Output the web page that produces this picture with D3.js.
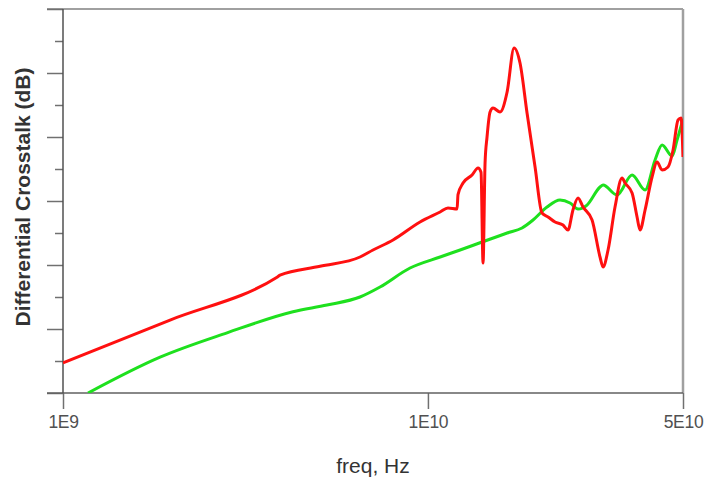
<!DOCTYPE html>
<html>
<head>
<meta charset="utf-8">
<script src="https://cdn.jsdelivr.net/npm/d3@7"></script>
<style>
  html, body { margin: 0; padding: 0; background: #fff; }
  svg { display: block; }
</style>
</head>
<body>
<svg id="chart" width="706" height="477"></svg>
<script>
// Frequencies in GHz, crosstalk in dB
const redFreq = [1.000, 1.965, 3.859, 3.932, 5.062, 6.515, 7.072, 8.024, 9.515, 10.80,
  11.35, 12.02, 12.09, 12.48, 13.21, 13.72, 13.98, 14.16, 14.34, 14.52,
  14.80, 15.08, 15.76, 16.48, 17.22, 17.88, 18.69, 19.66, 20.54, 21.34,
  22.30, 23.45, 24.20, 24.97, 25.78, 26.61, 28.17, 29.62, 30.19, 31.16,
  32.56, 34.03, 34.69, 36.26, 37.42, 38.13, 39.36, 41.13, 42.46, 43.82,
  45.50, 46.96, 48.46, 49.39, 50.00];
const redDb = [-55.3, -48.6, -41.9, -41.6, -40.2, -38.75, -37.66, -36.09, -33.28, -31.72,
  -31.09, -31.25, -29.0, -27.2, -25.94, -24.84, -25.5, -39.7, -24.06, -20.0,
  -16.09, -15.47, -16.09, -12.97, -6.09, -8.44, -16.25, -24.69, -31.88, -32.5,
  -33.28, -33.75, -34.53, -31.41, -29.53, -30.94, -32.97, -38.75, -40.31, -37.66,
  -30.94, -26.41, -27.19, -28.75, -32.5, -34.53, -31.41, -26.25, -23.91, -25.16,
  -24.69, -22.03, -17.34, -17.03, -23.13];

const greenFreq = [1.171, 1.845, 2.815, 4.268, 5.290, 6.515, 7.391, 8.932, 10.80, 12.25,
  14.07, 16.48, 18.11, 19.41, 21.20, 23.01, 24.51, 25.78, 27.29, 29.62,
  30.19, 32.98, 36.26, 39.36, 41.92, 43.82, 46.67, 48.16, 50.00];
const greenDb = [-60.0, -54.4, -50.6, -47.3, -46.25, -45.0, -43.44, -40.47, -38.75, -37.66,
  -36.41, -35.0, -34.22, -32.97, -30.94, -29.84, -30.31, -31.25, -30.63, -27.81,
  -27.5, -29.06, -25.94, -28.28, -23.59, -21.25, -22.97, -20.47, -17.19];

const xTickValues = [1e9, 1e10, 5e10];
const xTickLabels = ["1E9", "1E10", "5E10"];
const yMajorTicks = [-60, -50, -40, -30, -20, -10, 0];
const yMinorTicks = [-55, -45, -35, -25, -15, -5];

const svg = d3.select("#chart");
const plotLeft = 63, plotRight = 683, plotTop = 9, plotBottom = 393;

const x = d3.scaleLog().domain([1e9, 5e10]).range([plotLeft, plotRight]);
const y = d3.scaleLinear().domain([-60, 0]).range([plotBottom, plotTop]);

svg.append("defs").append("clipPath").attr("id", "plotClip")
  .append("rect").attr("x", plotLeft).attr("y", plotTop)
  .attr("width", plotRight - plotLeft).attr("height", plotBottom - plotTop);

// frame: top and right border
svg.append("line").attr("x1", 47).attr("x2", plotRight).attr("y1", plotTop).attr("y2", plotTop)
  .attr("stroke", "#a0a0a0").attr("stroke-width", 2);
svg.append("line").attr("x1", plotRight).attr("x2", plotRight).attr("y1", plotTop).attr("y2", plotBottom)
  .attr("stroke", "#a0a0a0").attr("stroke-width", 2.5);

// y axis: unlabeled major and minor ticks
const yMajor = svg.append("g").attr("transform", `translate(${plotLeft},0)`)
  .call(d3.axisLeft(y).tickValues(yMajorTicks).tickSize(16).tickFormat(""));
const yMinor = svg.append("g").attr("transform", `translate(${plotLeft},0)`)
  .call(d3.axisLeft(y).tickValues(yMinorTicks).tickSize(8).tickFormat(""));
[yMajor, yMinor].forEach(g => {
  g.select(".domain").remove();
  g.selectAll(".tick line").attr("stroke", "#707070").attr("stroke-width", 1.5);
});

// x axis
const xAxis = svg.append("g").attr("transform", `translate(0,${plotBottom})`)
  .call(d3.axisBottom(x).tickValues(xTickValues).tickSize(16).tickPadding(7)
    .tickFormat((d, i) => xTickLabels[i]));
xAxis.select(".domain").remove();
xAxis.selectAll(".tick line").attr("stroke", "#707070").attr("stroke-width", 1.5);
xAxis.selectAll(".tick text")
  .attr("font-family", "'Liberation Sans', Arial, sans-serif")
  .attr("font-size", 17.5).attr("fill", "#505050").attr("letter-spacing", -0.3);

// axis lines
svg.append("line").attr("x1", 47).attr("x2", plotRight).attr("y1", plotBottom).attr("y2", plotBottom)
  .attr("stroke", "#606060").attr("stroke-width", 1.5);
svg.append("line").attr("x1", plotLeft).attr("x2", plotLeft).attr("y1", plotTop).attr("y2", plotBottom)
  .attr("stroke", "#505050").attr("stroke-width", 1.5);

// curves
const redData = redFreq.map((f, i) => ({ f: f * 1e9, v: redDb[i] }));
const greenData = greenFreq.map((f, i) => ({ f: f * 1e9, v: greenDb[i] }));
const line = d3.line().x(d => x(d.f)).y(d => y(d.v)).curve(d3.curveMonotoneX);

const plot = svg.append("g").attr("clip-path", "url(#plotClip)");
plot.append("path").datum(greenData).attr("d", line)
  .attr("fill", "none").attr("stroke", "#1ee01e").attr("stroke-width", 3)
  .attr("stroke-linejoin", "round");
plot.append("path").datum(redData).attr("d", line)
  .attr("fill", "none").attr("stroke", "#ff1010").attr("stroke-width", 3)
  .attr("stroke-linejoin", "round");

// axis titles
svg.append("text").attr("x", (plotLeft + plotRight) / 2).attr("y", 473)
  .attr("text-anchor", "middle")
  .attr("font-family", "'Liberation Sans', Arial, sans-serif")
  .attr("font-size", 21).attr("fill", "#333")
  .text("freq, Hz");
svg.append("text")
  .attr("transform", "translate(30,197) rotate(-90)")
  .attr("text-anchor", "middle")
  .attr("font-family", "'Liberation Sans', Arial, sans-serif")
  .attr("font-weight", "bold")
  .attr("font-size", 21).attr("fill", "#333")
  .text("Differential Crosstalk (dB)");
</script>
</body>
</html>
